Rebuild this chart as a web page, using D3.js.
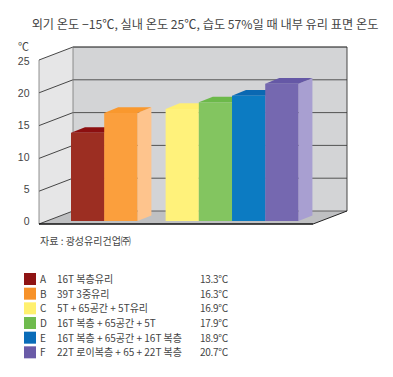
<!DOCTYPE html>
<html>
<head>
<meta charset="utf-8">
<script src="https://cdn.jsdelivr.net/npm/d3@7"></script>
<style>
  html, body { margin: 0; padding: 0; background: #fff; }
  svg { display: block; }
  text { font-family: "Noto Sans CJK KR", sans-serif; fill: #444; }
</style>
</head>
<body>
<div id="chart"></div>
<script>
const categories = ['A', 'B', 'C', 'D', 'E', 'F'];
const temps = [13.3, 16.3, 16.9, 17.9, 18.9, 20.7];
const glassNames = [
    '16T 복층유리',
    '39T 3중유리',
    '5T + 65공간 + 5T유리',
    '16T 복층 + 65공간 + 5T',
    '16T 복층 + 65공간 + 16T 복층',
    '22T 로이복층 + 65 + 22T 복층'
];
const tempLabels = ['13.3℃', '16.3℃', '16.9℃', '17.9℃', '18.9℃', '20.7℃'];
const frontColors = ['#9c2e22', '#fb9f3d', '#fff27b', '#83c560', '#0c7bc2', '#7568b0'];
const topColors = ['#8c0f10', '#f9982e', '#ffef70', '#6cb94a', '#0a68b2', '#6558a6'];
const sideColors = ['#b8574c', '#fec48d', '#fff7b0', '#a8d890', '#5aa8dc', '#a89fd1'];
const swatchColors = ['#8f1414', '#f7922a', '#fff06e', '#6fbb4e', '#0a6cb8', '#6a5ba8'];
const yTicks = [0, 5, 10, 15, 20, 25];

const width = 393;
const height = 377;
const svg = d3.select('#chart').append('svg')
    .attr('width', width)
    .attr('height', height);

const line = d3.line();
const poly = (pts, fill) => svg.append('path')
    .attr('d', line(pts) + 'Z')
    .attr('fill', fill);

svg.append('text')
    .attr('x', 205).attr('y', 29)
    .attr('text-anchor', 'middle')
    .attr('font-size', 12.2)
    .text('외기 온도 −15℃, 실내 온도 25℃, 습도 57%일 때 내부 유리 표면 온도');

// walls
const yBack = d3.scaleLinear().domain([0, 25]).range([211, 47]);
const yFront = d3.scaleLinear().domain([0, 25]).range([224, 60]);
const wallL = 39, wallB = 73, wallR = 347, floorR = 313;

poly([[wallB, yBack(0)], [wallR, yBack(0)], [wallR, yBack(25)], [wallB, yBack(25)]], '#d3d4d6');
poly([[wallL, yFront(0)], [wallB, yBack(0)], [wallB, yBack(25)], [wallL, yFront(25)]], '#e6e6e7');
poly([[wallL, yFront(0)], [floorR, yFront(0)], [wallR, yBack(0)], [wallB, yBack(0)]], '#bfc0c2');

svg.append('g').selectAll('line.back')
    .data(yTicks.slice(1, 5))
    .join('line')
    .attr('x1', wallB).attr('x2', wallR)
    .attr('y1', d => yBack(d)).attr('y2', d => yBack(d))
    .attr('stroke', '#444').attr('stroke-width', 0.9);

svg.append('g').selectAll('line.left')
    .data(yTicks)
    .join('line')
    .attr('x1', wallL).attr('x2', wallB)
    .attr('y1', d => yFront(d)).attr('y2', d => yBack(d))
    .attr('stroke', '#333').attr('stroke-width', 0.9);

// top edge and bottom of the back wall
svg.append('line')
    .attr('x1', wallB).attr('x2', wallR)
    .attr('y1', yBack(25)).attr('y2', yBack(25))
    .attr('stroke', '#111').attr('stroke-width', 1.1);
svg.append('line')
    .attr('x1', wallB).attr('x2', wallR)
    .attr('y1', yBack(0)).attr('y2', yBack(0))
    .attr('stroke', '#555').attr('stroke-width', 0.9);
svg.append('line')
    .attr('x1', wallR).attr('x2', wallR)
    .attr('y1', yBack(0)).attr('y2', yBack(25))
    .attr('stroke', '#333').attr('stroke-width', 0.9);
svg.append('line')
    .attr('x1', wallB).attr('x2', wallB)
    .attr('y1', yBack(0)).attr('y2', yBack(25))
    .attr('stroke', '#777').attr('stroke-width', 0.8);
svg.append('line')
    .attr('x1', wallL).attr('x2', wallL)
    .attr('y1', yFront(0)).attr('y2', yFront(25))
    .attr('stroke', '#777').attr('stroke-width', 0.8);
svg.append('line')
    .attr('x1', wallL).attr('x2', floorR)
    .attr('y1', yFront(0)).attr('y2', yFront(0))
    .attr('stroke', '#111').attr('stroke-width', 1.3);
svg.append('line')
    .attr('x1', floorR).attr('x2', wallR)
    .attr('y1', yFront(0)).attr('y2', yBack(0))
    .attr('stroke', '#222').attr('stroke-width', 1);

// y labels
const yLabel = d3.scaleLinear().domain([0, 25]).range([221, 61]);
const yAxis = svg.append('g')
    .attr('transform', 'translate(29.5,0)')
    .call(d3.axisLeft(yLabel).tickValues(yTicks).tickSize(0).tickPadding(0));
yAxis.select('.domain').remove();
yAxis.selectAll('text')
    .attr('font-size', 10.5)
    .style('font-family', 'Liberation Sans, sans-serif');

svg.append('text')
    .attr('x', 18).attr('y', 50.5)
    .attr('font-size', 11)
    .text('℃');

// bars, the gap after B is a bit narrower than one bar
const barW = 33.2, depthX = 14, depthY = 5.6;
const x = d3.scaleLinear().domain([0, 1]).range([71, 71 + barW]);
const slot = i => (i < 2 ? i : i + 0.85);
const yBar = d3.scaleLinear().domain([0, 25]).range([221, 55.2]);

categories.forEach((c, i) => {
    const x0 = x(slot(i)), x1 = x0 + barW;
    const y0 = yBar(0), y1 = yBar(temps[i]);
    poly([[x1, y0], [x1 + depthX, y0 - depthY], [x1 + depthX, y1 - depthY], [x1, y1]], sideColors[i]);
    poly([[x0, y1], [x0 + depthX, y1 - depthY], [x1 + depthX, y1 - depthY], [x1, y1]], topColors[i]);
    poly([[x0, y0], [x1, y0], [x1, y1], [x0, y1]], frontColors[i]);
});

svg.append('text')
    .attr('x', 40).attr('y', 244.5)
    .attr('font-size', 10)
    .text('자료 : 광성유리건업㈜');

// legend
const yLegend = d3.scaleBand().domain(categories).range([273, 361]);
const legend = svg.append('g').selectAll('g')
    .data(categories)
    .join('g')
    .attr('transform', d => `translate(0,${yLegend(d)})`);

legend.append('rect')
    .attr('x', 24).attr('y', 0)
    .attr('width', 12).attr('height', 12)
    .attr('fill', (d, i) => swatchColors[i]);
legend.append('text')
    .attr('x', 40).attr('y', 10)
    .attr('font-size', 10)
    .text(d => d);
legend.append('text')
    .attr('x', 57).attr('y', 10)
    .attr('font-size', 10)
    .text((d, i) => glassNames[i]);
legend.append('text')
    .attr('x', 200).attr('y', 10)
    .attr('font-size', 10)
    .attr('letter-spacing', -0.3)
    .text((d, i) => tempLabels[i]);
</script>
</body>
</html>
